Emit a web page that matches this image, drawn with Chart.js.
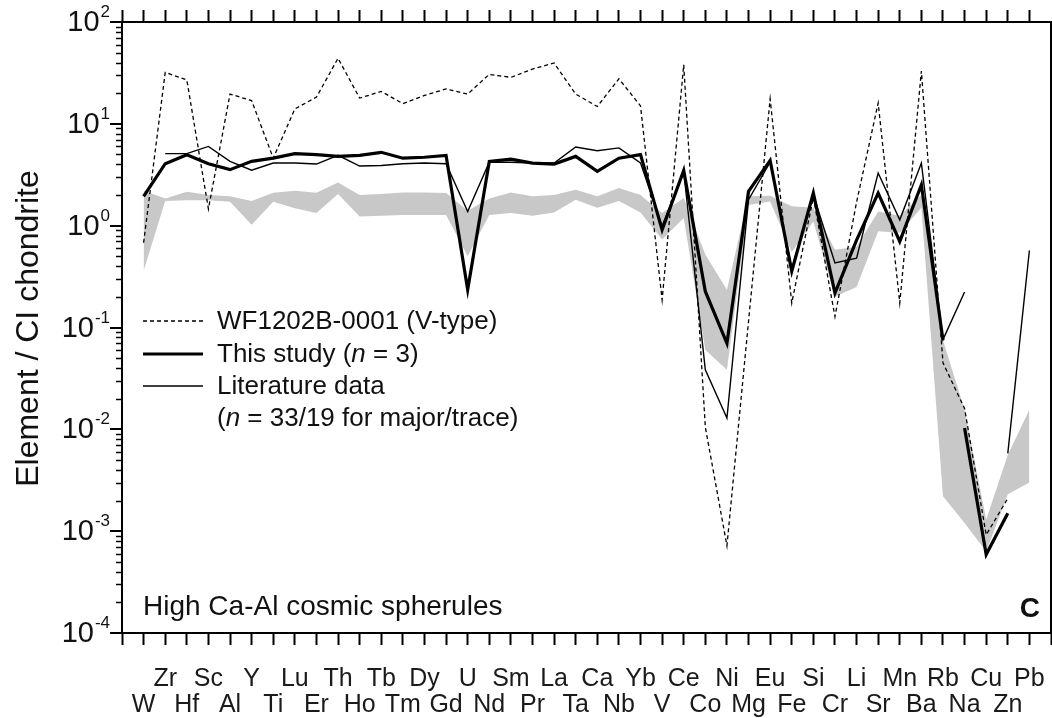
<!DOCTYPE html>
<html>
<head>
<meta charset="utf-8">
<script src="https://cdn.jsdelivr.net/npm/chart.js@4.4.1/dist/chart.umd.min.js"></script>
<style>
  html, body { margin: 0; padding: 0; background: #fff; }
  #wrap { width: 1052px; height: 718px; }
</style>
</head>
<body>
<div id="wrap"><canvas id="spiderChart" width="1052" height="718"></canvas></div>
<script>
// Elements in plotting order (CI-normalised spider diagram)
const ELEMENTS = [
  "W", "Zr", "Hf", "Sc", "Al", "Y", "Ti", "Lu", "Er", "Th", "Ho", "Tb", "Tm", "Dy",
  "Gd", "U", "Nd", "Sm", "Pr", "La", "Ta", "Ca", "Nb", "Yb", "V", "Ce", "Co", "Ni",
  "Mg", "Eu", "Fe", "Si", "Cr", "Li", "Sr", "Mn", "Ba", "Rb", "Na", "Cu", "Zn", "Pb",
];

// WF1202B-0001 (V-type)
const V_TYPE = [
  0.68, 32, 27, 1.46, 19.6, 16.9, 4.6, 14, 18.3, 44, 17.9, 20.8, 15.8, 19,
  22, 19.6, 30.6, 28.6, 34.5, 39.6, 19.6, 14.8, 27.7, 15, 0.187, 38, 0.0105, 0.00072,
  0.115, 17.6, 0.174, 1.9, 0.128, 1.7, 16, 0.174, 33, 0.045, 0.016, 0.00092, 0.0021, null,
];

// This study, mean of n = 3
const THIS_STUDY = [
  1.94, 4.06, 4.98, 4.06, 3.55, 4.28, 4.61, 5.1, 4.98, 4.79, 4.9, 5.25, 4.6, 4.7,
  4.9, 0.235, 4.28, 4.5, 4.12, 4.03, 4.79, 3.41, 4.6, 4.98, 0.91, 3.49, 0.226, 0.07,
  2.17, 4.37, 0.356, 2.09, 0.218, 0.72, 2.09, 0.7, 2.52, 0.075, 0.0103, 0.00059, 0.0015, null,
];
// no segment is drawn from these elements to the next one
const THIS_STUDY_BREAKS = ["Rb"];

// Literature data (n = 33/19 for major/trace)
const LITERATURE = [
  null, 5.1, 5.1, 6.0, 4.28, 3.5, 4.12, 4.12, 4.03, 4.9, 3.85, 3.9, 4.06, 4.12,
  4.06, 1.38, 4.2, 4.2, 4.12, 4.12, 5.92, 5.45, 5.8, 4.12, 0.99, 3.4, 0.0385, 0.0129,
  1.8, 4.2, 0.38, 2.0, 0.43, 0.48, 3.29, 1.14, 4.12, 0.076, 0.223, null, 0.0058, 0.57,
];

// grey range envelope
const RANGE_UPPER = [
  2.2, 1.85, 2.15, 2.0, 1.95, 1.75, 2.1, 2.2, 2.1, 2.65, 2.0, 2.05, 2.12, 2.12,
  2.09, 1.4, 1.85, 2.12, 1.94, 2.0, 2.25, 1.94, 2.35, 2.0, 1.33, 1.87, 0.52, 0.235,
  1.94, 1.97, 1.55, 1.5, 0.58, 0.62, 1.38, 1.25, 2.0, 0.075, 0.0156, 0.0013, 0.0056, 0.0156,
];
const RANGE_LOWER = [
  0.36, 1.75, 1.78, 1.78, 1.72, 1.02, 1.72, 1.48, 1.33, 2.05, 1.23, 1.25, 1.27, 1.27,
  1.27, 0.5, 1.27, 1.33, 1.25, 1.35, 1.8, 1.5, 1.75, 1.35, 0.73, 1.19, 0.06, 0.0385,
  1.6, 1.73, 0.55, 1.1, 0.2, 0.25, 0.88, 0.85, 1.5, 0.0022, 0.0012, 0.00063, 0.0023, 0.003,
];

const Y_MIN_EXP = -4;
const Y_MAX_EXP = 2;

const FONT = '"Liberation Sans", Arial, Helvetica, sans-serif';
const INK = "#111";
const RANGE_GREY = "#c8c8c8";

function toPoints(values) {
  return values.map((y, x) => ({ x, y }));
}

function lineDataset(label, values, extra) {
  return Object.assign(
    {
      label,
      data: toPoints(values),
      borderColor: "#000",
      backgroundColor: "#000",
      pointRadius: 0,
      pointHoverRadius: 0,
      tension: 0,
      fill: false,
      spanGaps: false,
    },
    extra,
  );
}

function drawRichText(ctx, x, y, parts, size) {
  let cursor = x;
  parts.forEach(([text, italic]) => {
    ctx.font = `${italic ? "italic " : ""}${size}px ${FONT}`;
    ctx.fillText(text, cursor, y);
    cursor += ctx.measureText(text).width;
  });
}

// log axis: outward major/minor ticks and 10^n labels
function drawLogAxis(chart) {
  const { ctx } = chart;
  const scale = chart.scales.y;
  const left = chart.chartArea.left;

  ctx.save();
  ctx.strokeStyle = "#000";
  ctx.fillStyle = INK;
  ctx.textBaseline = "middle";

  for (let e = Y_MIN_EXP; e <= Y_MAX_EXP; e++) {
    const y = Math.round(scale.getPixelForValue(10 ** e));
    ctx.lineWidth = 2;
    ctx.beginPath();
    ctx.moveTo(left - 12, y);
    ctx.lineTo(left, y);
    ctx.stroke();

    if (e < Y_MAX_EXP) {
      ctx.lineWidth = 1.5;
      for (let m = 2; m <= 9; m++) {
        const ym = Math.round(scale.getPixelForValue(m * 10 ** e)) + 0.5;
        ctx.beginPath();
        ctx.moveTo(left - 6, ym);
        ctx.lineTo(left, ym);
        ctx.stroke();
      }
    }

    const expText = String(e);
    ctx.font = `17px ${FONT}`;
    const expWidth = ctx.measureText(expText).width;
    const right = 110;
    ctx.textAlign = "left";
    ctx.fillText(expText, right - expWidth, y - 10);
    ctx.font = `29px ${FONT}`;
    ctx.textAlign = "right";
    ctx.fillText("10", right - expWidth - 1, y + 1);
  }
  ctx.restore();
}

function drawLegend(chart) {
  const { ctx } = chart;
  const rows = [
    { y: 321, dash: [4, 3], width: 1.3, parts: [["WF1202B-0001 (V-type)", false]] },
    { y: 354, dash: [], width: 3.2, parts: [["This study (", false], ["n", true], [" = 3)", false]] },
    { y: 386, dash: [], width: 1.4, parts: [["Literature data", false]] },
    { y: 418, parts: [["(", false], ["n", true], [" = 33/19 for major/trace)", false]] },
  ];

  ctx.save();
  ctx.fillStyle = INK;
  ctx.textBaseline = "middle";
  ctx.textAlign = "left";
  rows.forEach((row) => {
    if (row.width) {
      ctx.strokeStyle = "#000";
      ctx.lineWidth = row.width;
      ctx.setLineDash(row.dash);
      ctx.beginPath();
      ctx.moveTo(143, row.y);
      ctx.lineTo(203, row.y);
      ctx.stroke();
      ctx.setLineDash([]);
    }
    drawRichText(ctx, 217, row.y + 1, row.parts, 26);
  });
  ctx.restore();
}

function drawAnnotations(chart) {
  const { ctx, chartArea } = chart;
  ctx.save();
  ctx.fillStyle = INK;
  ctx.textBaseline = "alphabetic";

  ctx.textAlign = "left";
  ctx.font = `28px ${FONT}`;
  ctx.fillText("High Ca-Al cosmic spherules", chartArea.left + 21, 615);

  ctx.textAlign = "right";
  ctx.font = `bold 28px ${FONT}`;
  ctx.fillText("C", chartArea.right - 11, 617);

  // y axis title
  ctx.translate(29, (chartArea.top + chartArea.bottom) / 2 + 1);
  ctx.rotate(-Math.PI / 2);
  ctx.textAlign = "center";
  ctx.textBaseline = "middle";
  ctx.font = `32px ${FONT}`;
  ctx.fillText("Element / CI chondrite", 0, 0);
  ctx.restore();
}

const decorations = {
  id: "decorations",
  afterDraw(chart) {
    drawLogAxis(chart);
    drawLegend(chart);
    drawAnnotations(chart);
  },
};

function categoryTicks(showLabels, position) {
  return {
    type: "linear",
    position,
    min: -1,
    max: ELEMENTS.length,
    grid: {
      display: true,
      drawOnChartArea: false,
      drawTicks: true,
      tickLength: 12,
      tickWidth: 2,
      tickColor(ctx) {
        // no tick mark at the top-right corner
        if (position === "top" && ctx.tick && ctx.tick.value === ELEMENTS.length) {
          return "rgba(0,0,0,0)";
        }
        return "#000";
      },
    },
    border: { display: true, color: "#000", width: 2 },
    ticks: {
      display: showLabels,
      stepSize: 1,
      autoSkip: false,
      maxRotation: 0,
      minRotation: 0,
      padding: 21,
      color: "#1a1a1a",
      font: { family: FONT, size: 25, lineHeight: "26px" },
      callback(value) {
        const i = Math.round(value);
        const name = ELEMENTS[i];
        if (!name) return "";
        return i % 2 === 1 ? [name, ""] : ["", name];
      },
    },
    afterFit(scale) {
      scale.height = position === "top" ? 22 : 85;
      // labels sit inside the frame, so the axis needs no side padding
      scale.paddingLeft = 0;
      scale.paddingRight = 0;
    },
  };
}

function logAxis(position, width) {
  return {
    type: "logarithmic",
    position,
    min: 10 ** Y_MIN_EXP,
    max: 10 ** Y_MAX_EXP,
    grid: { display: false },
    border: { display: true, color: "#000", width: 2 },
    ticks: { display: false },
    afterFit(scale) {
      scale.width = width;
    },
  };
}

const breakIndexes = THIS_STUDY_BREAKS.map((name) => ELEMENTS.indexOf(name));

new Chart(document.getElementById("spiderChart"), {
  type: "line",
  data: {
    datasets: [
      lineDataset("This study (n = 3)", THIS_STUDY, {
        borderWidth: 3.2,
        order: 1,
        segment: {
          borderColor(ctx) {
            return breakIndexes.includes(ctx.p0DataIndex) ? "rgba(0,0,0,0)" : undefined;
          },
        },
      }),
      lineDataset("Literature data", LITERATURE, { borderWidth: 1.4, order: 2 }),
      lineDataset("WF1202B-0001 (V-type)", V_TYPE, {
        borderWidth: 1.3,
        borderDash: [4, 3],
        order: 3,
      }),
      lineDataset("Range upper", RANGE_UPPER, {
        borderWidth: 0,
        borderColor: RANGE_GREY,
        backgroundColor: RANGE_GREY,
        fill: "+1",
        order: 10,
      }),
      lineDataset("Range lower", RANGE_LOWER, {
        borderWidth: 0,
        borderColor: RANGE_GREY,
        order: 11,
      }),
    ],
  },
  options: {
    responsive: false,
    animation: false,
    devicePixelRatio: 1,
    layout: { padding: { left: 0, right: 0, top: 0, bottom: 0 } },
    plugins: {
      legend: { display: false },
      tooltip: { enabled: false },
    },
    scales: {
      x: categoryTicks(true, "bottom"),
      xTop: categoryTicks(false, "top"),
      y: logAxis("left", 122),
      yRight: logAxis("right", 1),
    },
  },
  plugins: [decorations],
});
</script>
</body>
</html>
